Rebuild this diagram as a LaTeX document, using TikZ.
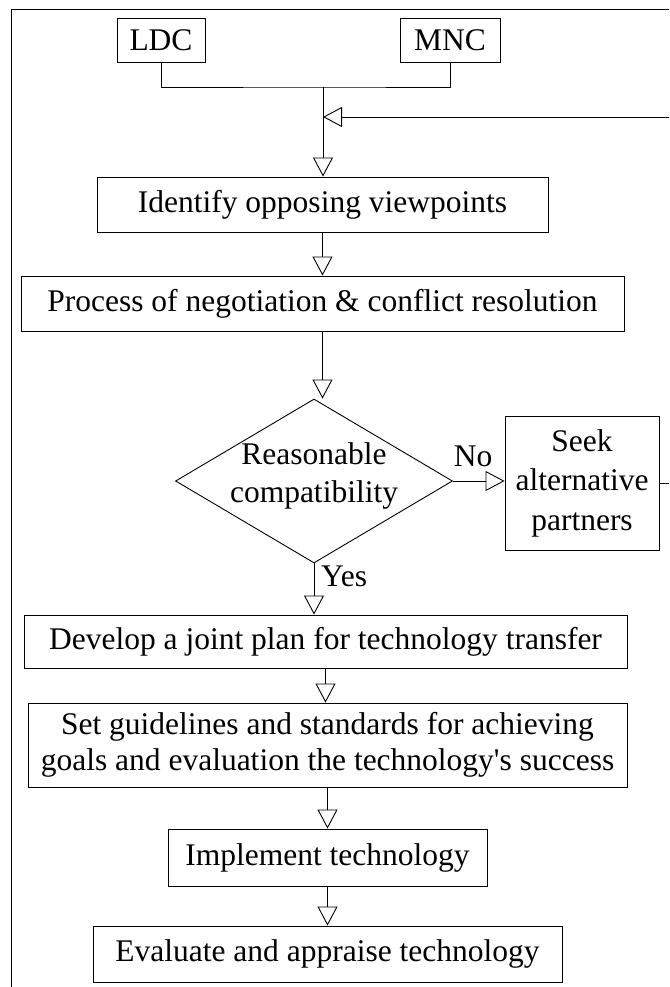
\documentclass[tikz,border=0pt]{standalone}
\usepackage{fontspec}
\setmainfont{Liberation Serif}[Ligatures=TeXOff]
\usetikzlibrary{arrows.meta,shapes.geometric}
\begin{document}
\begin{tikzpicture}[x=1pt,y=-1pt,
  every node/.style={font=\fontsize{31.5}{38}\selectfont},
  box/.style={draw, line width=0.9pt, inner sep=0pt, align=center},
  link/.style={draw, line width=0.9pt},
  flow/.style={draw, line width=0.9pt, -{Triangle[open,length=19pt,width=20pt,fill=white]}},
  tag/.style={inner sep=0pt}]
\useasboundingbox (0,0) rectangle (669,987);
\clip (0,0) rectangle (669,987);

% outer frame
\draw[line width=0.9pt] (11.5,1000) -- (11.5,9) -- (700,9);

% parties
\node[box, minimum width=88pt, minimum height=44pt] (ldc) at (161,40) {LDC};
\node[box, minimum width=100pt, minimum height=44pt] (mnc) at (450,40) {MNC};

% main steps
\node[box, minimum width=451pt, minimum height=55pt] (ident) at (322.5,204.5) {Identify opposing viewpoints};
\node[box, minimum width=603pt, minimum height=55pt] (nego) at (322.5,303.5) {Process of negotiation \& conflict resolution};

% decision
\node[draw, diamond, line width=0.9pt, inner sep=0pt, minimum width=277pt, minimum height=164pt] (dec) at (314,481) {};
\node[align=center, tag] (dectext) at (314,476) {Reasonable\\compatibility};
\node[box, minimum width=154pt, minimum height=134pt, font=\fontsize{31.5}{39.5}\selectfont] (seek) at (582,483) {Seek\\alternative\\partners};
\node[tag, anchor=base] (no) at (473,466) {No};
\node[tag, anchor=base west] (yes) at (321,586) {Yes};

% later steps
\node[box, minimum width=603pt, minimum height=53pt] (plan) at (325.5,641.5) {Develop a joint plan for technology transfer};
\node[box, minimum width=599pt, minimum height=84pt, font=\fontsize{31.5}{36}\selectfont] (guide) at (327.5,745) {Set guidelines and standards for achieving\\goals and evaluation the technology's success};
\node[box, minimum width=319pt, minimum height=57pt] (impl) at (327.5,857.5) {Implement technology};
\node[box, minimum width=469pt, minimum height=56pt] (eval) at (327.5,954) {Evaluate and appraise technology};

% connectors
\coordinate (join) at (323,87);
\coordinate (back) at (323,117);
\draw[link] (ldc.south) |- (join) -| (mnc.south);
\draw[flow] (join) -- (join |- ident.north);
\draw[flow] (seek.east) -- ++(40,0) |- (back);
\draw[flow] (ident.south) -- (nego.north);
\draw[flow] (nego.south) -- (nego.south |- dec.north);
\draw[flow] (dec.east) -- (dec.east -| seek.west);
\draw[flow] (dec.south) -- (dec.south |- plan.north);
\draw[flow] (plan.south) -- (plan.south |- guide.north);
\draw[flow] (guide.south) -- (impl.north);
\draw[flow] (impl.south) -- (eval.north);
\end{tikzpicture}
\end{document}
